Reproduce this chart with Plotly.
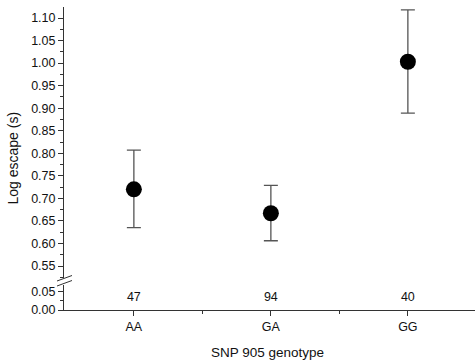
import plotly.graph_objects as go

# Data
genotypes = ["AA", "GA", "GG"]
xpos = [0, 1, 2]
means = [0.720, 0.667, 1.003]
upper = [0.807, 0.729, 1.118]
lower = [0.635, 0.606, 0.889]
counts = ["47", "94", "40"]
count_y = [0.033, 0.033, 0.033]

err_plus = [u - m for u, m in zip(upper, means)]
err_minus = [m - l for m, l in zip(means, lower)]

W, H = 475, 364
ml, mr, mt, mb = 64, 0, 7, 54
ph = H - mt - mb

def py(pix):
    return (H - mb - pix) / ph

def px(pix):
    return (pix - ml) / (W - ml - mr)

font = "Liberation Sans, Arial, sans-serif"
axcol = "#333333"

fig = go.Figure()
fig.add_trace(go.Scatter(
    x=xpos, y=means, mode="markers",
    marker=dict(color="black", size=16),
    error_y=dict(type="data", symmetric=False, array=err_plus, arrayminus=err_minus,
                 color="#555555", thickness=1.3, width=7),
    xaxis="x", yaxis="y", showlegend=False, cliponaxis=False,
))
fig.add_trace(go.Scatter(
    x=xpos, y=count_y, mode="text", text=counts,
    textfont=dict(family=font, size=12.5, color="#111111"),
    textposition="middle center",
    xaxis="x", yaxis="y2", showlegend=False, cliponaxis=False,
))

up_lo, up_hi = 0.5234, 1.1244
lo_lo, lo_hi = 0.0, 0.0694

fig.update_layout(
    width=W, height=H,
    margin=dict(l=ml, r=mr, t=mt, b=mb, pad=0),
    paper_bgcolor="white", plot_bgcolor="white",
    font=dict(family=font, size=12.5, color="#111111"),
    xaxis=dict(
        range=[-0.51, 2.49], anchor="y2",
        tickmode="array", tickvals=xpos, ticktext=genotypes,
        ticks="outside", ticklen=5, tickcolor=axcol, tickwidth=1,
        showline=True, linecolor=axcol, linewidth=1,
        showgrid=False, zeroline=False,
        minor=dict(tickvals=[0.5, 1.5], ticks="outside", ticklen=3, tickcolor=axcol),
        tickfont=dict(size=12.5),
    ),
    yaxis=dict(
        domain=[py(278), 1], range=[up_lo, up_hi], anchor="x",
        tick0=0, dtick=0.05, tickformat=".2f",
        ticks="outside", ticklen=5, tickcolor=axcol,
        showline=True, linecolor=axcol, linewidth=1,
        showgrid=False, zeroline=False,
        minor=dict(dtick=0.025, tick0=0, ticks="outside", ticklen=3, tickcolor=axcol),
        tickfont=dict(size=12.5),
    ),
    yaxis2=dict(
        domain=[0, py(285)], range=[lo_lo, lo_hi], anchor="x",
        tickmode="array", tickvals=[0.0, 0.05], tickformat=".2f",
        ticks="outside", ticklen=5, tickcolor=axcol,
        showline=True, linecolor=axcol, linewidth=1,
        showgrid=False, zeroline=False,
        minor=dict(dtick=0.025, tick0=0, ticks="outside", ticklen=3, tickcolor=axcol),
        tickfont=dict(size=12.5),
    ),
    annotations=[
        dict(text="Log escape (s)", textangle=-90, xref="paper", yref="paper",
             x=px(12.5), y=py(158), showarrow=False, font=dict(size=14),
             xanchor="center", yanchor="middle"),
        dict(text="SNP 905 genotype", xref="paper", yref="paper",
             x=px(267), y=py(352), showarrow=False, font=dict(size=13.5),
             xanchor="center", yanchor="middle"),
    ],
    shapes=[
        dict(type="line", xref="paper", yref="paper",
             x0=px(57), y0=py(281), x1=px(72), y1=py(275.5),
             line=dict(color=axcol, width=1)),
        dict(type="line", xref="paper", yref="paper",
             x0=px(57), y0=py(286), x1=px(72), y1=py(280.5),
             line=dict(color=axcol, width=1)),
    ],
)

fig.write_html("out.html")
